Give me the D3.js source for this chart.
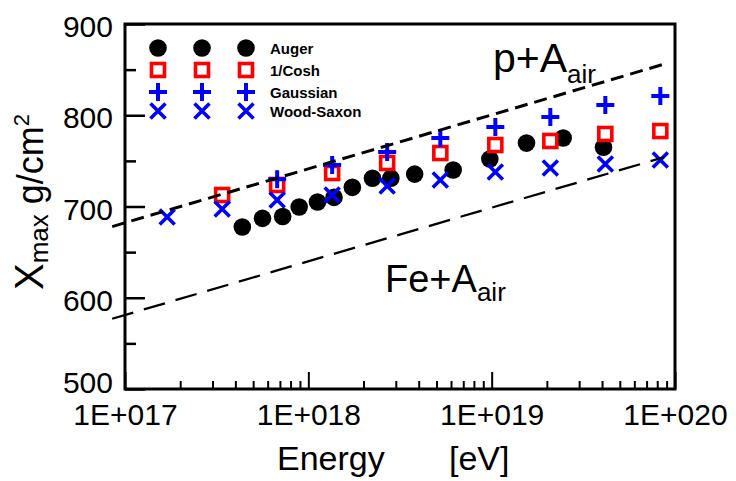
<!DOCTYPE html>
<html><head><meta charset="utf-8">
<script src="https://cdn.jsdelivr.net/npm/d3@7"></script>
<style>body{margin:0;background:#fff}svg{display:block;font-family:"Liberation Sans",Arial,Helvetica,sans-serif}</style>
</head><body><svg id="c" width="736" height="481"></svg>
<script>
// ---- data (log10 of energy in eV, Xmax in g/cm^2) ----
const augerLogE = [17.64, 17.75, 17.86, 17.95, 18.05, 18.14, 18.24, 18.35, 18.45, 18.58, 18.79, 18.99, 19.19, 19.39, 19.61];
const augerXmax = [677.5, 687, 689, 699.5, 705, 710, 721, 731, 731, 735.5, 740, 752, 769.5, 775, 765];
const coshLogE = [17.53, 17.83, 18.13, 18.43, 18.72, 19.02, 19.32, 19.62, 19.92];
const coshXmax = [712.6, 723.6, 736.7, 747.7, 758.6, 767.4, 771.8, 779.5, 782.7];
const gaussLogE = [17.83, 18.13, 18.43, 18.72, 19.02, 19.32, 19.62, 19.92];
const gaussXmax = [730, 745.5, 759.7, 775.1, 787.1, 798.1, 811.2, 821.1];
const wsLogE = [17.23, 17.53, 17.83, 18.13, 18.43, 18.72, 19.02, 19.32, 19.62, 19.92];
const wsXmax = [688.5, 697.3, 707.1, 712.6, 722.5, 729, 737.8, 742.2, 746.6, 751];
const protonLogE = [16.93, 19.94];
const protonXmax = [678, 856];
const ironLogE = [16.93, 19.94];
const ironXmax = [577, 754];
const xTickLabels = ["1E+017", "1E+018", "1E+019", "1E+020"];
const yTicks = [500, 600, 700, 800, 900];
const legendNames = ["Auger", "1/Cosh", "Gaussian", "Wood-Saxon"];

const svg = d3.select("#c");
const x = d3.scaleLog().domain([1e17, 1e20]).range([125, 675]);
const y = d3.scaleLinear().domain([500, 900]).range([389, 24]);
const X = v => x(Math.pow(10, v));

// axes
const minor = [];
for (let d = 17; d < 20; d++) for (let k = 2; k <= 9; k++) minor.push(k * Math.pow(10, d));
const majorE = [1e17, 1e18, 1e19, 1e20];

const gx = svg.append("g").attr("transform", "translate(0,389)");
gx.call(d3.axisBottom(x).tickValues(minor).tickSize(-8).tickFormat(""));
const gx2 = svg.append("g").attr("transform", "translate(0,389)");
gx2.call(d3.axisBottom(x).tickValues(majorE).tickSize(-17).tickPadding(15).tickFormat((d, i) => xTickLabels[i]));
[gx, gx2].forEach(g => { g.select(".domain").remove(); g.selectAll("line").attr("stroke", "#000").attr("stroke-width", 2); });
gx2.selectAll("text").attr("font-size", 30).attr("fill", "#000").attr("font-family", null);

const gy = svg.append("g").attr("transform", "translate(125,0)");
gy.call(d3.axisLeft(y).tickValues([550, 650, 750, 850]).tickSize(-11).tickFormat(""));
const gy2 = svg.append("g").attr("transform", "translate(125,0)");
gy2.call(d3.axisLeft(y).tickValues(yTicks).tickSize(-20).tickPadding(12).tickFormat(d3.format("d")));
[gy, gy2].forEach(g => { g.select(".domain").remove(); g.selectAll("line").attr("stroke", "#000").attr("stroke-width", 2.5); });
gy2.selectAll("text").attr("font-size", 30).attr("fill", "#000").attr("font-family", null)
  .attr("x", -12).attr("dy", d => d === 500 ? "0.1em" : "0.42em");

svg.append("rect").attr("x", 125).attr("y", 24).attr("width", 550).attr("height", 365)
  .attr("fill", "none").attr("stroke", "#000").attr("stroke-width", 3);

// markers
const R = 8.8;
function circle(g, cx, cy) { g.append("circle").attr("cx", cx).attr("cy", cy).attr("r", R).attr("fill", "#000"); }
function square(g, cx, cy) { const s = 13; g.append("rect").attr("x", cx - s / 2).attr("y", cy - s / 2).attr("width", s).attr("height", s).attr("fill", "#fff").attr("stroke", "#f00").attr("stroke-width", 3.6); }
function plus(g, cx, cy) { const a = 9; g.append("path").attr("d", `M${cx - a},${cy}H${cx + a}M${cx},${cy - a}V${cy + a}`).attr("stroke", "#00f").attr("stroke-width", 4).attr("fill", "none"); }
function cross(g, cx, cy) { const a = 7.5; g.append("path").attr("d", `M${cx - a},${cy - a}L${cx + a},${cy + a}M${cx - a},${cy + a}L${cx + a},${cy - a}`).attr("stroke", "#00f").attr("stroke-width", 3.6).attr("fill", "none"); }

const gm = svg.append("g");
augerLogE.forEach((v, i) => circle(gm, X(v), y(augerXmax[i])));
coshLogE.forEach((v, i) => square(gm, X(v), y(coshXmax[i])));
gaussLogE.forEach((v, i) => plus(gm, X(v), y(gaussXmax[i])));
wsLogE.forEach((v, i) => cross(gm, X(v), y(wsXmax[i])));

// composition lines
const line = d3.line().x(d => X(d[0])).y(d => y(d[1]));
svg.append("path").attr("d", line(protonLogE.map((v, i) => [v, protonXmax[i]])))
  .attr("fill", "none").attr("stroke", "#000").attr("stroke-width", 3).attr("stroke-dasharray", "13,7");
svg.append("path").attr("d", line(ironLogE.map((v, i) => [v, ironXmax[i]])))
  .attr("fill", "none").attr("stroke", "#000").attr("stroke-width", 2.3).attr("stroke-dasharray", "22,11");

// legend
const fns = [circle, square, plus, cross];
const ly = [48, 70, 92, 111];
const gl = svg.append("g");
legendNames.forEach((n, i) => {
  [158, 202, 246].forEach(cx => fns[i](gl, cx, ly[i]));
  gl.append("text").attr("x", 270).attr("y", ly[i] + 5.5).attr("font-size", 15).attr("font-weight", "bold").text(n);
});

// annotations
const tp = svg.append("text").attr("x", 493).attr("y", 72).attr("font-size", 41);
tp.append("tspan").text("p+A");
tp.append("tspan").attr("font-size", 26).attr("dy", 11).text("air");
const tf = svg.append("text").attr("x", 385).attr("y", 292).attr("font-size", 38);
tf.append("tspan").text("Fe+A");
tf.append("tspan").attr("font-size", 26).attr("dy", 9).text("air");

// axis titles
const tx = svg.append("text").attr("y", 470).attr("font-size", 34);
tx.append("tspan").attr("x", 277).text("Energy");
tx.append("tspan").attr("x", 449).text("[eV]");

const ty = svg.append("text").attr("transform", "translate(43,290) rotate(-90)").attr("font-size", 40);
ty.append("tspan").text("X");
ty.append("tspan").attr("font-size", 26).attr("dy", 5).text("max");
ty.append("tspan").attr("font-size", 36).attr("dy", -5).attr("dx", 10).text("g/cm");
ty.append("tspan").attr("font-size", 22).attr("dy", -14).text("2");
</script></body></html>
